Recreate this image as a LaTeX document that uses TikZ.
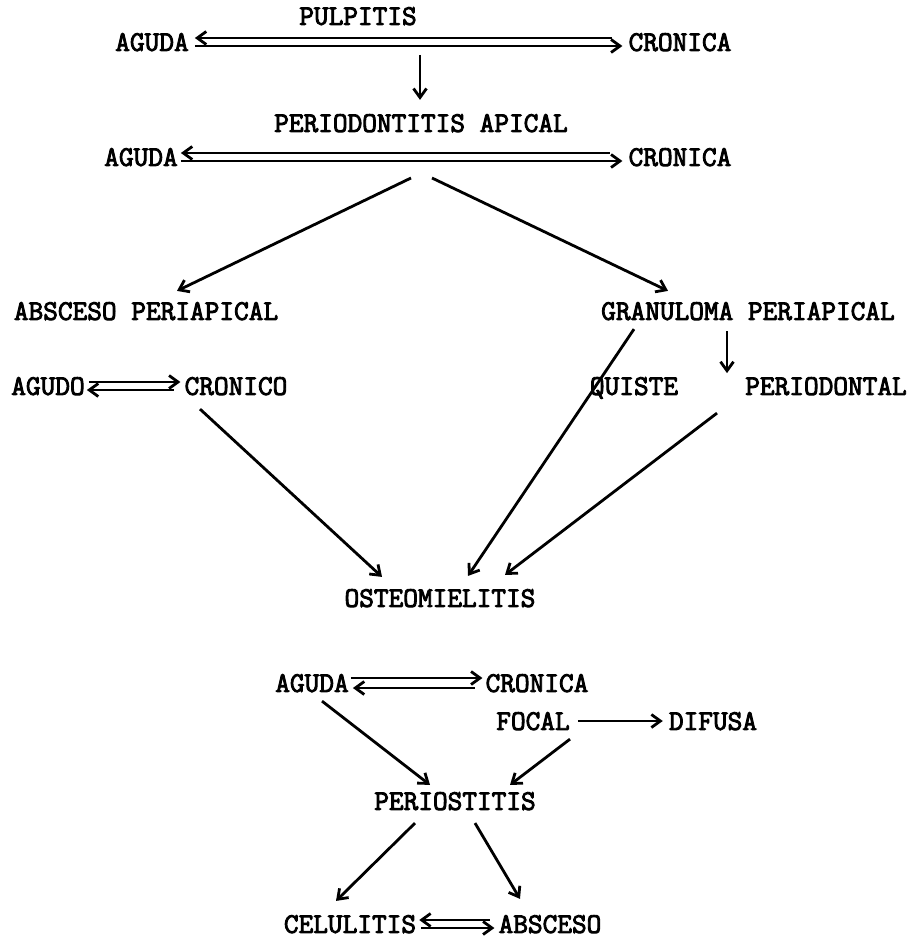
\documentclass[tikz,border=0pt]{standalone}
\usepackage{fontspec}
\usetikzlibrary{arrows.meta}
\newcommand\heavytext[1]{\special{pdf:literal direct 2 Tr 0.9 w}#1\special{pdf:literal direct 0 Tr}}
\begin{document}
\begin{tikzpicture}[x=1pt,y=-1pt,
  lbl/.style={inner sep=0pt,anchor=center,text depth=0pt,font=\ttfamily\fontsize{28.5}{28.5}\selectfont},
  arr/.style={line width=2.8pt,-{Straight Barb[length=9pt,width=13pt,line width=2.8pt]}},
  rarr/.style={line width=2.8pt,{Straight Barb[length=9pt,width=13pt,line width=2.8pt]}-}]
\useasboundingbox (0,0) rectangle (910,944);
% nodes
\node[lbl] (pul) at (358,16) {\heavytext{PULPITIS}};
\node[lbl] (ag1) at (152,42) {\heavytext{AGUDA}};
\node[lbl] (cr1) at (680,42) {\heavytext{CRONICA}};
\node[lbl] (pa) at (421,123) {\heavytext{PERIODONTITIS APICAL}};
\node[lbl] (ag2) at (141,157) {\heavytext{AGUDA}};
\node[lbl] (cr2) at (680,157) {\heavytext{CRONICA}};
\coordinate (split) at (421,178);
\node[lbl] (absp) at (146,311) {\heavytext{ABSCESO PERIAPICAL}};
\node[lbl] (granp) at (748,311) {\heavytext{GRANULOMA PERIAPICAL}};
\node[lbl] (agudo) at (48,386) {\heavytext{AGUDO}};
\node[lbl] (cronico) at (236,386) {\heavytext{CRONICO}};
\node[lbl] (quiste) at (634,386) {\heavytext{QUISTE}};
\node[lbl] (period) at (826,386) {\heavytext{PERIODONTAL}};
\node[lbl] (osteo) at (440,598) {\heavytext{OSTEOMIELITIS}};
\node[lbl] (ag3) at (312,683) {\heavytext{AGUDA}};
\node[lbl] (cr3) at (537,683) {\heavytext{CRONICA}};
\node[lbl] (focal) at (533,721) {\heavytext{FOCAL}};
\node[lbl] (difusa) at (713,721) {\heavytext{DIFUSA}};
\node[lbl] (perios) at (455,801) {\heavytext{PERIOSTITIS}};
\node[lbl] (celu) at (350,924) {\heavytext{CELULITIS}};
\node[lbl] (absc) at (550,924) {\heavytext{ABSCESO}};
% row 1
\draw[rarr] ([shift={(6,-4)}]ag1.east) -- ([shift={(-16,-4)}]cr1.west);
\draw[arr] ([shift={(6,4)}]ag1.east) -- ([shift={(-6,4)}]cr1.west);
\draw[arr] ([shift={(-1,-59)}]pa.north) -- ([shift={(-1,-14)}]pa.north);
% row 2
\draw[rarr] ([shift={(3,-4)}]ag2.east) -- ([shift={(-18,-4)}]cr2.west);
\draw[arr] ([shift={(3,4)}]ag2.east) -- ([shift={(-6,4)}]cr2.west);
\draw[arr] ([shift={(-10,0)}]split) -- ([shift={(31,-11)}]absp.north);
\draw[arr] ([shift={(11,0)}]split) -- ([shift={(-80,-11)}]granp.north);
% agudo / cronico
\draw[arr] ([shift={(4,-4)}]agudo.east) -- ([shift={(-4,-4)}]cronico.west);
\draw[rarr] ([shift={(2,4)}]agudo.east) -- ([shift={(-10,4)}]cronico.west);
% granuloma
\draw[arr] ([shift={(-21,11)}]granp.south) -- ([shift={(-21,53)}]granp.south);
\draw[arr] ([shift={(-114,9)}]granp.south) -- ([shift={(28,-13)}]osteo.north);
\draw[arr] ([shift={(-109,18)}]period.south) -- ([shift={(65,-14)}]osteo.north);
\draw[arr] ([shift={(-36,14)}]cronico.south) -- ([shift={(-58,-12)}]osteo.north);
% row 3
\draw[arr] ([shift={(2,-5)}]ag3.east) -- ([shift={(-3,-5)}]cr3.west);
\draw[rarr] ([shift={(4,5)}]ag3.east) -- ([shift={(-10,5)}]cr3.west);
\draw[arr] ([shift={(8,0)}]focal.east) -- ([shift={(-6,0)}]difusa.west);
\draw[arr] ([shift={(10,9)}]ag3.south) -- ([shift={(-25,-7)}]perios.north);
\draw[arr] ([shift={(37,9)}]focal.south) -- ([shift={(55,-7)}]perios.north);
\draw[arr] ([shift={(-40,13)}]perios.south) -- ([shift={(-14,-14)}]celu.north);
\draw[arr] ([shift={(20,13)}]perios.south) -- ([shift={(-30,-16)}]absc.north);
\draw[rarr] ([shift={(3,-4)}]celu.east) -- ([shift={(-8,-4)}]absc.west);
\draw[arr] ([shift={(5,4)}]celu.east) -- ([shift={(-4,4)}]absc.west);
\end{tikzpicture}
\end{document}
